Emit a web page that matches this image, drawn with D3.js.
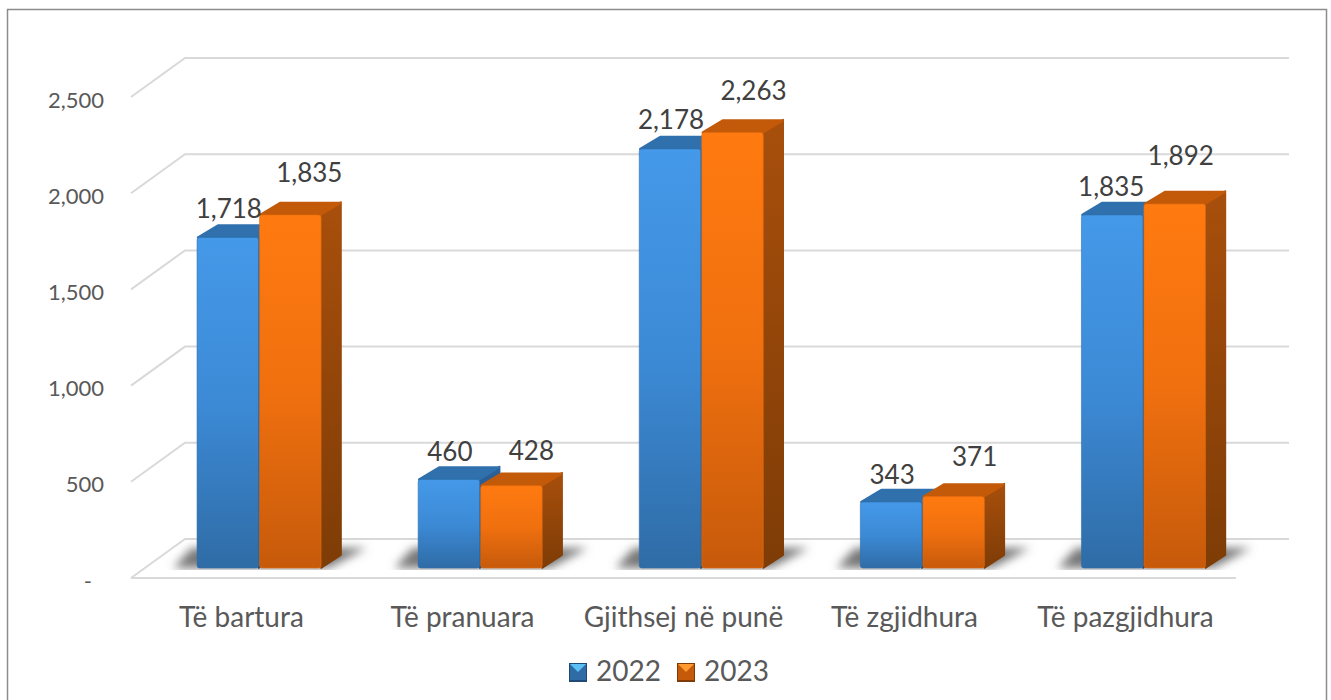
<!DOCTYPE html>
<html>
<head>
<meta charset="utf-8">
<script src="https://cdn.jsdelivr.net/npm/d3@7"></script>
<style>
  html, body { margin: 0; padding: 0; background: #fff; overflow: hidden; }
  svg text { font-family: Lato, "Open Sans", sans-serif; }
</style>
</head>
<body>
<svg id="chart" width="1331" height="700"></svg>
<script>
const categories = ['Të bartura', 'Të pranuara', 'Gjithsej në punë', 'Të zgjidhura', 'Të pazgjidhura'];
const years = ['2022', '2023'];
const values2022 = [1718, 460, 2178, 343, 1835];
const values2023 = [1835, 428, 2263, 371, 1892];
const yTicks = [0, 500, 1000, 1500, 2000, 2500];

const svg = d3.select('#chart');
const defs = svg.append('defs');

// 3d offsets: floor depth and bar depth
const floorDx = 54, floorDy = -39;
const barDx = 20, barDy = -13;
const barLift = 10;

const y = d3.scaleLinear().domain([0, 2500]).range([578, 97]);
const xLabels = d3.scaleBand().domain(categories).range([131, 1236]);
const xBars = d3.scaleBand().domain(categories).range([148.5, 1254]);
const barWidth = 61.5;

const colors = {
  '2022': { front: ['#4499e8', '#3c8ad6', '#2f6ca6'], side: ['#2a6299', '#1f4a75'], top: '#2f70ad', edge: '#2f6fae', tip: '#5cc0f5' },
  '2023': { front: ['#ff7a10', '#f0700f', '#c65a0b'], side: ['#a84f0c', '#7e3c06'], top: '#c25a09', edge: '#e56b0e', tip: '#ff9a30' }
};

// gradients run over each bar's own box, short bars get the full range too
function addGradient(id, stops) {
  const g = defs.append('linearGradient').attr('id', id)
    .attr('x1', 0).attr('x2', 0).attr('y1', 0).attr('y2', 1);
  stops.forEach((c, i) => {
    g.append('stop').attr('offset', i / (stops.length - 1)).attr('stop-color', c);
  });
}
years.forEach(yr => {
  addGradient('front' + yr, colors[yr].front);
  addGradient('side' + yr, colors[yr].side);
});

const blur = defs.append('filter').attr('id', 'shadowBlur')
  .attr('x', '-30%').attr('y', '-60%').attr('width', '160%').attr('height', '220%');
blur.append('feGaussianBlur').attr('stdDeviation', 5);

const base = y(0) - barLift;
defs.append('clipPath').attr('id', 'floorClip')
  .append('rect').attr('x', 0).attr('y', 0).attr('width', 1331).attr('height', base + 2);

// chart frame
svg.append('path')
  .attr('d', 'M7.5,700V9.5H1326.5V700')
  .attr('fill', 'none')
  .attr('stroke', '#8c8c8c')
  .attr('stroke-width', 1.5);

// gridlines: left wall diagonal + back wall line
const grid = svg.append('g').attr('class', 'grid')
  .attr('fill', 'none').attr('stroke', '#d9d9d9').attr('stroke-width', 2);

grid.selectAll('path')
  .data(yTicks)
  .join('path')
  .attr('d', d => `M131,${y(d)}L${131 + floorDx},${y(d) + floorDy}H${1235 + floorDx}`);

grid.append('line')
  .attr('x1', 131).attr('x2', 1236)
  .attr('y1', y(0)).attr('y2', y(0));

// y axis
const axis = svg.append('g')
  .attr('transform', 'translate(104,3)')
  .call(d3.axisLeft(y).tickValues(yTicks).tickSize(0).tickPadding(0)
    .tickFormat(d => d === 0 ? '-' : d3.format(',')(d)));
axis.select('.domain').remove();
axis.selectAll('text')
  .attr('font-size', 22)
  .attr('fill', '#595959')
  .attr('dx', d => d === 0 ? -12 : 0)
  .attr('dy', '0.32em');

// category labels
svg.append('g').selectAll('text')
  .data(categories)
  .join('text')
  .attr('x', d => xLabels(d) + xLabels.bandwidth() / 2)
  .attr('y', 627)
  .attr('text-anchor', 'middle')
  .attr('font-size', 28)
  .attr('fill', '#595959')
  .text(d => d);

// labelNudge: the few labels that sit off the usual spot
const series = [
  { year: '2022', values: values2022, offset: -barWidth - 0.5, labelDx: 1, labelDy: -20,
    labelNudge: [[0, 1], [0, 2], [0, 0], [0, 2], [-2, 1]] },
  { year: '2023', values: values2023, offset: 0.5, labelDx: 20, labelDy: -31,
    labelNudge: [[-1, -2], [0, 5], [1, -2], [1, 0], [-14, -8]] }
];
const center = d => xBars(d) + xBars.bandwidth() / 2;

// floor shadows first
svg.append('g').attr('clip-path', 'url(#floorClip)').selectAll('path')
  .data(categories)
  .join('path')
  .attr('d', d => {
    const l = center(d) - barWidth - 24, r = center(d) + barWidth + 46;
    return `M${l},${base}L${l + 18},${base - 20}H${r}L${r - 38},${base}Z`;
  })
  .attr('fill', '#777')
  .attr('filter', 'url(#shadowBlur)');

// bars, one face at a time
series.forEach(s => {
  const g = svg.append('g').attr('class', 'bars-' + s.year);
  const rows = categories.map((c, i) => ({ c, v: s.values[i] }));
  const xl = d => center(d.c) + s.offset;
  const top = d => y(d.v) - barLift;

  g.selectAll('path.side')
    .data(rows)
    .join('path')
    .attr('class', 'side')
    .attr('d', d => `M${xl(d) + barWidth},${top(d)}l${barDx},${barDy}V${base + barDy}L${xl(d) + barWidth},${base}Z`)
    .attr('fill', `url(#side${s.year})`)
    .attr('stroke', `url(#side${s.year})`)
    .attr('stroke-width', 1.5)
    .attr('stroke-linejoin', 'round');

  g.selectAll('path.top')
    .data(rows)
    .join('path')
    .attr('class', 'top')
    .attr('d', d => `M${xl(d) + 1},${top(d)}l${barDx},${barDy + 1}h${barWidth - 2}l${-barDx},${-barDy - 1}Z`)
    .attr('fill', colors[s.year].top)
    .attr('stroke', colors[s.year].top)
    .attr('stroke-width', 2.5)
    .attr('stroke-linejoin', 'round');

  g.selectAll('rect.front')
    .data(rows)
    .join('rect')
    .attr('class', 'front')
    .attr('x', xl)
    .attr('y', top)
    .attr('width', barWidth)
    .attr('height', d => base - top(d))
    .attr('rx', 2.5)
    .attr('fill', `url(#front${s.year})`)
    .attr('stroke', colors[s.year].edge)
    .attr('stroke-opacity', 0.6)
    .attr('stroke-width', 1);
});

// data labels go above all the bars
series.forEach(s => {
  svg.append('g').selectAll('text')
    .data(categories.map((c, i) => ({ c, v: s.values[i], n: s.labelNudge[i] })))
    .join('text')
    .attr('x', d => center(d.c) + s.offset + barWidth / 2 + s.labelDx + d.n[0])
    .attr('y', d => y(d.v) - barLift + s.labelDy + d.n[1])
    .attr('text-anchor', 'middle')
    .attr('font-size', 26)
    .attr('fill', '#404040')
    .text(d => d3.format(',')(d.v));
});

// legend
const legendScale = d3.scalePoint().domain(years).range([569, 677]);
const legend = svg.append('g').selectAll('g')
  .data(years)
  .join('g')
  .attr('transform', d => `translate(${legendScale(d)},663)`);

legend.append('rect')
  .attr('width', 18).attr('height', 19)
  .attr('fill', d => colors[d].side[1]);
legend.append('rect')
  .attr('x', 1).attr('y', 1)
  .attr('width', 16).attr('height', 16)
  .attr('fill', d => colors[d].front[2]);
legend.append('path')
  .attr('d', 'M1,1H17L9,9Z')
  .attr('fill', d => colors[d].tip);
legend.append('text')
  .attr('x', 27).attr('y', 18)
  .attr('font-size', 28)
  .attr('fill', '#595959')
  .text(d => d);
</script>
</body>
</html>
